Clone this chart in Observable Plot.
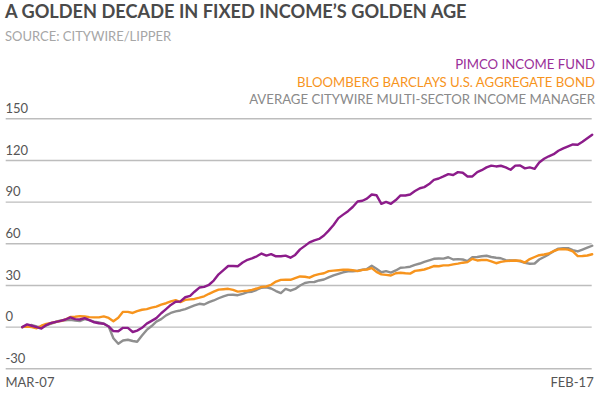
<!DOCTYPE html>
<html>
<head>
<meta charset="utf-8">
<script src="https://cdn.jsdelivr.net/npm/d3@7"></script>
<script src="https://cdn.jsdelivr.net/npm/@observablehq/plot@0.6"></script>
<style>
  html, body { margin: 0; padding: 0; background: #fff; }
  #wrap { position: relative; width: 600px; height: 398px; overflow: hidden; font-family: Lato, "Open Sans", sans-serif; }
  .t { position: absolute; white-space: nowrap; }
  #title { left: 5px; top: 1px; font-size: 18.2px; font-weight: 700; color: #4a4a4a; line-height: 20px; }
  #sub { left: 5px; top: 28px; font-size: 13px; color: #a6a6a6; line-height: 16px; }
  .leg { right: 5px; font-size: 13.2px; line-height: 16px; }
  #chart { position: absolute; left: 0; top: 0; }
</style>
</head>
<body>
<div id="wrap">
  <div id="chart"></div>
  <div id="title" class="t"></div>
  <div id="sub" class="t"></div>
  <div id="legend"></div>
</div>
<script>
const titleText = "A GOLDEN DECADE IN FIXED INCOME’S GOLDEN AGE";
const subtitleText = "SOURCE: CITYWIRE/LIPPER";
const seriesNames = ["PIMCO INCOME FUND", "BLOOMBERG BARCLAYS U.S. AGGREGATE BOND", "AVERAGE CITYWIRE MULTI-SECTOR INCOME MANAGER"];
const seriesColors = ["#8c1c8a", "#f7941d", "#8f8f8f"];
const legendColors = ["#9a2f99", "#f7941d", "#8a8a8a"];
const yTicks = [-30, 0, 30, 60, 90, 120, 150];
const xLabels = ["MAR-07", "FEB-17"];
const startMonth = "2007-03";
const endMonth = "2017-02";

const pimco = [
  0, 2, 1, 0, -1, 1.5, 3, 3.8, 4.5, 5.5,
  7, 5.8, 5.5, 6.5, 5, 3.5, 2.8, 2.4, 0.5, -2.8,
  -3, -0.5, -0.5, -3.5, -2.5, -0.5, 2.5, 4.5, 6.5, 10,
  13, 16, 18.3, 18.5, 21.5, 22.5, 25.5, 28.5, 29, 30.5,
  33.5, 38, 41, 44, 44, 43.8, 46.5, 48.5, 49.5, 51,
  53, 51.5, 52.6, 51, 51, 51.5, 50, 52, 56, 58.5,
  61, 62.5, 63.5, 66, 69.5, 73.5, 78.5, 81, 83.5, 86.5,
  90.5, 91, 92.5, 95.5, 95, 88.8, 90.2, 88.8, 91.5, 94.8,
  94.8, 95.5, 98, 100, 100.8, 103, 106, 107, 108.5, 110.2,
  109.5, 111.6, 111.2, 108.5, 108.5, 111.6, 113, 115, 116.3, 115.7,
  116.2, 115, 113.3, 116.3, 116.4, 114.3, 115, 114, 118.5, 121.2,
  123, 124.5, 127, 128.7, 130.2, 131.5, 131.3, 133.5, 136, 138.5
];
const bloomberg = [
  0, 0.5, 0, -0.8, 1, 2.3, 3, 3.8, 4.4, 5.5,
  7.3, 7.5, 7.9, 7.7, 7.2, 7, 7, 7.7, 6.6, 4.3,
  6.8, 11, 11, 10.2, 11.5, 12.5, 13, 14, 14.8, 16.2,
  17.2, 18.5, 19.4, 18, 19.6, 20, 20.3, 21.2, 22.2, 24,
  25.5, 27, 27.3, 27.6, 26.8, 25.6, 25.9, 26.2, 26.8, 27.8,
  29, 29.3, 30.5, 32.8, 34, 34.1, 34.1, 35.3, 36.5, 36.3,
  35.6, 37.3, 38.2, 38.8, 40.3, 40.7, 41, 41.3, 41.3, 41,
  40.3, 41.2, 41.5, 42.5, 39.8, 38, 37.6, 37.2, 38.8, 39.2,
  38.8, 38.5, 40.5, 41, 41.5, 42.6, 44, 43.8, 44.5, 44.5,
  45.2, 45.7, 46.4, 46.8, 49.2, 48, 48.3, 48.4, 47.3, 46,
  47, 47.5, 47.8, 48, 47.8, 46.5, 49, 50.5, 51.8, 52.3,
  53, 54.7, 56, 56.2, 55.8, 54.5, 51.1, 51.2, 51.6, 52.5
];
const citywire = [
  0, 1, 1.5, 0.5, -0.3, 1.3, 2.5, 3.7, 4.8, 5,
  5.3, 4.8, 4.3, 5.8, 5, 4, 3.4, 2.5, 0.5, -8,
  -12, -9.6, -9.1, -10, -10.5, -6, -2, 0.8, 4, 5.8,
  8.5, 10.2, 11.3, 12, 13, 14.4, 15.7, 16.8, 16.3, 18,
  19.2, 20.8, 22.2, 23.2, 23.3, 23, 24, 25.2, 25.5, 26.9,
  28.4, 28.6, 27.8, 26, 24.5, 27.5, 26.2, 27.5, 30, 31.8,
  32.4, 32.5, 33.6, 34.3, 35.8, 37.3, 38.4, 39.5, 40.2, 40.2,
  40.6, 41.3, 41.8, 44.2, 42, 39.5, 40.3, 39.3, 40.8, 42.8,
  43, 43.5, 44.8, 45.8, 47, 48.1, 49.2, 49.4, 49.3, 50.3,
  48.7, 49, 48.7, 47.6, 50.4, 50.5, 51, 51.4, 50.5, 50,
  49.6, 48.2, 48, 48, 47.3, 46.3, 45.6, 45.8, 48.7, 50.5,
  52.4, 54.7, 56.5, 56.9, 56.9, 55.5, 54.5, 55.8, 57.2, 58.6
];

const parseMonth = d3.utcParse("%Y-%m");
const start = parseMonth(startMonth);
const end = parseMonth(endMonth);
const months = d3.utcMonth.range(start, d3.utcMonth.offset(end, 1));

const seriesValues = [pimco, bloomberg, citywire];
const rows = seriesValues.map((vals, i) => vals.map((v, j) => ({date: months[j], value: v, series: seriesNames[i]})));

// header
document.getElementById("title").textContent = titleText;
document.getElementById("sub").textContent = subtitleText;
const legendTops = [56, 73.5, 91];
const legend = document.getElementById("legend");
seriesNames.forEach((n, i) => {
  const d = document.createElement("div");
  d.className = "t leg";
  d.style.top = legendTops[i] + "px";
  d.style.color = legendColors[i];
  d.textContent = n;
  legend.appendChild(d);
});

const drawOrder = [2, 1, 0];
const chart = Plot.plot({
  width: 600,
  height: 398,
  marginTop: 118.3,
  marginBottom: 29.7,
  marginLeft: 21.7,
  marginRight: 8.3,
  x: {type: "utc", domain: [start, end], axis: null},
  y: {domain: [-30, 150], axis: null},
  style: {fontFamily: "Lato, 'Open Sans', sans-serif", background: "#fff"},
  marks: [
    Plot.ruleY(yTicks, {stroke: "#bdbdbd", strokeWidth: 1.4, insetLeft: -16, insetRight: 0}),
    Plot.text(yTicks, {y: d => d, text: d => String(d), frameAnchor: "left", textAnchor: "start", dx: -16.7, dy: -10, fontSize: 13, fill: "#555"}),
    ...drawOrder.map(i => Plot.lineY(rows[i], {x: "date", y: "value", stroke: seriesColors[i], strokeWidth: 2.4, strokeLinejoin: "round", strokeLinecap: "round"})),
    Plot.text([xLabels[0]], {x: start, frameAnchor: "bottom", text: d => d, textAnchor: "start", dx: -16.7, dy: 18, fontSize: 13, fill: "#555"}),
    Plot.text([xLabels[1]], {x: end, frameAnchor: "bottom", text: d => d, textAnchor: "end", dx: 1.5, dy: 18, fontSize: 13, fill: "#555"})
  ]
});
document.getElementById("chart").appendChild(chart);
</script>
</body>
</html>
